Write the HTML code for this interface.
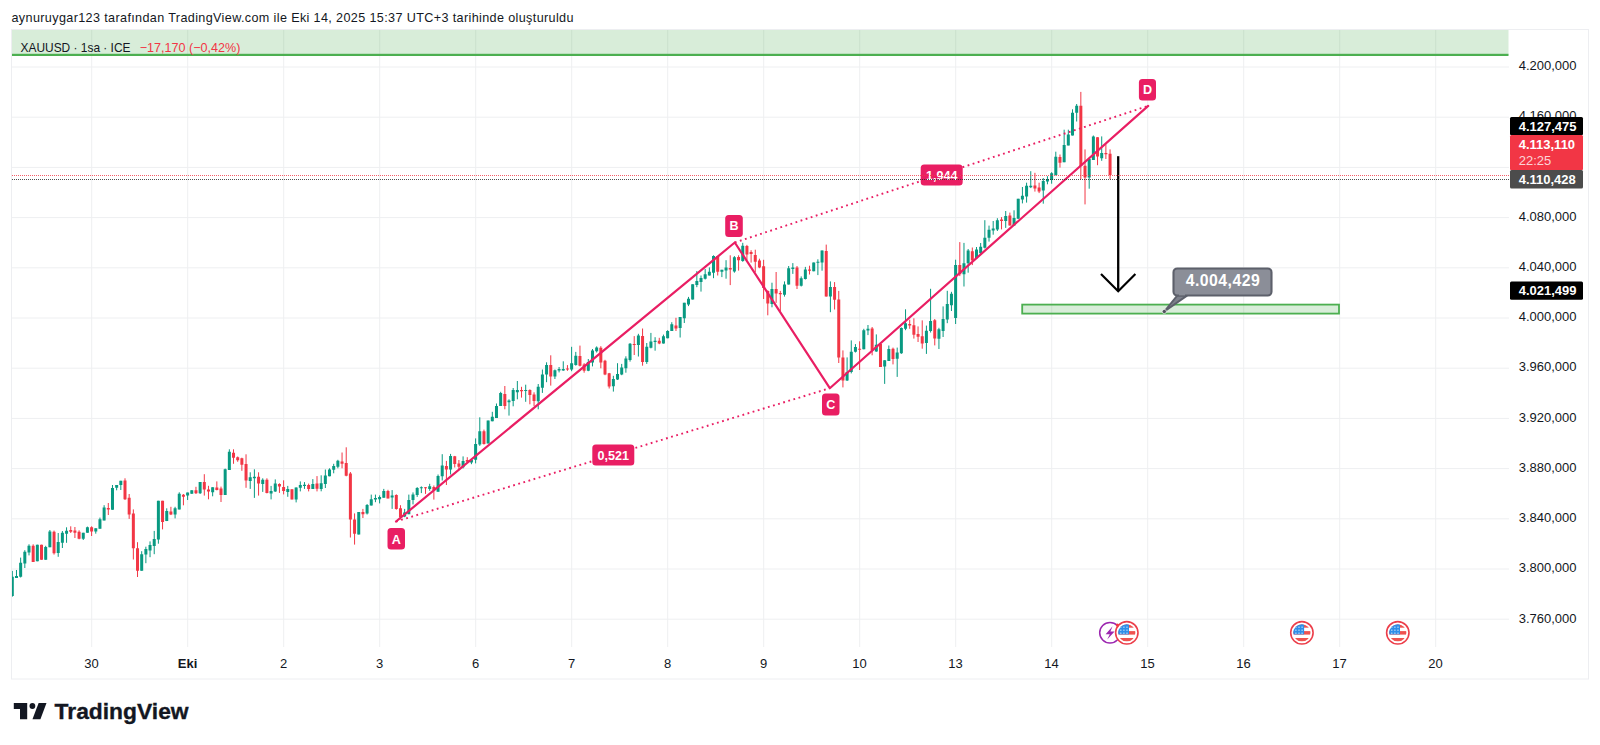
<!DOCTYPE html>
<html lang="tr"><head><meta charset="utf-8"><title>XAUUSD 1sa - TradingView</title>
<style>
html,body{margin:0;padding:0;background:#fff;}
body{width:1600px;height:745px;overflow:hidden;position:relative;font-family:'Liberation Sans', Arial, sans-serif;}
#hdr{position:absolute;left:11.5px;top:10px;font-size:12.6px;line-height:16px;color:#131722;white-space:nowrap;letter-spacing:0.37px;}
svg{position:absolute;left:0;top:0;}
svg text{font-family:'Liberation Sans', Arial, sans-serif;}
.ax{font-size:13px;fill:#131722;}
.tm{font-size:13px;fill:#131722;text-anchor:middle;}
.lb{font-size:12.6px;font-weight:bold;fill:#fff;text-anchor:middle;}
.pl{font-size:13px;font-weight:bold;fill:#fff;}
</style></head><body>
<div id="hdr">aynuruygar123 tarafından TradingView.com ile Eki 14, 2025 15:37 UTC+3 tarihinde oluşturuldu</div>
<svg width="1600" height="745" viewBox="0 0 1600 745">
<defs><clipPath id="plot"><rect x="11" y="30" width="1497.5" height="617"/></clipPath></defs>
<g stroke="#eeeff1" stroke-width="1">
<line x1="91.7" y1="30" x2="91.7" y2="647"/>
<line x1="187.7" y1="30" x2="187.7" y2="647"/>
<line x1="283.7" y1="30" x2="283.7" y2="647"/>
<line x1="379.7" y1="30" x2="379.7" y2="647"/>
<line x1="475.7" y1="30" x2="475.7" y2="647"/>
<line x1="571.7" y1="30" x2="571.7" y2="647"/>
<line x1="667.7" y1="30" x2="667.7" y2="647"/>
<line x1="763.7" y1="30" x2="763.7" y2="647"/>
<line x1="859.7" y1="30" x2="859.7" y2="647"/>
<line x1="955.7" y1="30" x2="955.7" y2="647"/>
<line x1="1051.7" y1="30" x2="1051.7" y2="647"/>
<line x1="1147.7" y1="30" x2="1147.7" y2="647"/>
<line x1="1243.7" y1="30" x2="1243.7" y2="647"/>
<line x1="1339.7" y1="30" x2="1339.7" y2="647"/>
<line x1="1435.7" y1="30" x2="1435.7" y2="647"/>
<line x1="11.5" y1="67" x2="1509" y2="67"/>
<line x1="11.5" y1="117.2" x2="1509" y2="117.2"/>
<line x1="11.5" y1="167.4" x2="1509" y2="167.4"/>
<line x1="11.5" y1="217.6" x2="1509" y2="217.6"/>
<line x1="11.5" y1="267.8" x2="1509" y2="267.8"/>
<line x1="11.5" y1="318" x2="1509" y2="318"/>
<line x1="11.5" y1="368.2" x2="1509" y2="368.2"/>
<line x1="11.5" y1="418.4" x2="1509" y2="418.4"/>
<line x1="11.5" y1="468.6" x2="1509" y2="468.6"/>
<line x1="11.5" y1="518.8" x2="1509" y2="518.8"/>
<line x1="11.5" y1="569" x2="1509" y2="569"/>
<line x1="11.5" y1="619.2" x2="1509" y2="619.2"/>
</g>
<rect x="12" y="30" width="1496.5" height="25" fill="#4caf50" fill-opacity="0.22"/>
<rect x="12" y="53.8" width="1496.5" height="2.2" fill="#4caf50"/>
<g clip-path="url(#plot)">
<path d="M12.3 570.9V596.7M16.47 570V578M20.65 557.6V577.5M24.82 550.2V568M29 544.3V555.4M37.34 544.7V561.3M45.69 545.8V559.8M49.87 530V547.2M58.21 533V556.8M62.39 531V548M66.56 527.3V542.8M83.26 532.8V540M87.43 526.6V532.8M95.78 528.3V533.7M99.95 517.6V528.7M104.13 505.2V520.4M112.48 485V509.8M116.65 485V490.3M120.82 480.8V490M141.69 551.2V570.8M145.87 546.7V563.2M150.04 541.4V557.2M154.22 530.9V554.2M158.39 500.8V543.7M166.74 508.3V521.1M175.09 506.8V518.4M179.26 492.3V509.4M187.61 492.6V500M191.78 490.3V493.8M200.13 482V494M212.65 487.3V496.3M225.17 468.6V494.9M229.35 449.3V470M250.22 472.3V488.9M254.39 469.3V497.9M262.74 478.3V491.9M271.09 485.9V499.4M275.26 479.4V491.9M287.78 485.9V496.8M296.13 487.4V502.4M300.31 481.4V491.4M304.48 482.1V488.9M312.83 479.1V488.9M321.18 475.3V491.3M325.35 469.5V488M329.52 468.3V476.3M333.7 463.8V473.3M337.87 459.8V468.3M358.74 512V534.5M367.09 504V514.5M371.26 494.6V505.5M375.44 494.6V502.2M379.61 495.4V503.4M383.79 488.9V497.7M392.13 490.1V508.9M404.66 508.9V517.2M408.83 494.6V514.2M413 492.4V504.4M417.18 487.1V496.9M421.35 486.4V493.1M429.7 483.8V490.8M438.05 474.5V491.7M442.22 454.2V480.5M450.57 453.9V474.5M463.09 456.4V468.4M471.44 458.9V464.2M475.61 438.4V463.4M479.79 417.3V445.9M488.14 420.6V443.4M492.31 411.8V421.3M496.48 403.5V417.9M500.66 391.8V406M509.01 399.3V415.6M513.18 388V406.3M517.35 381V399.3M525.7 384.7V401.8M538.22 384V409.3M542.4 369.5V392.9M546.57 362.3V382.2M554.92 369.5V379M559.09 367V372.4M563.27 361.3V370.8M571.62 346.8V371.2M575.79 351.9V365.7M588.31 359V371.2M592.49 349V366.4M596.66 346.4V352.5M613.36 375.8V391.6M617.53 363.2V380M621.7 363.9V375.2M625.88 356.3V372.7M630.05 343V361.6M638.4 333.8V356.5M646.75 343V363.9M650.92 332.9V348.4M655.1 337.2V350.7M663.44 334.6V343.6M667.62 330.2V338.3M671.79 322.2V331M680.14 317V337.5M684.31 302.8V323M688.49 296.9V306.1M692.66 284.3V299.6M696.84 271.1V287.2M701.01 275.5V291.6M705.18 269V279.5M709.36 267.4V275.5M713.53 255.3V278.2M721.88 269.8V277.1M726.05 260.2V278.7M734.4 256.1V272.7M742.75 242.8V261.8M771.97 282.7V307.3M784.49 281.4V296.6M788.66 266V284.6M792.84 263.1V273.9M801.19 276.4V286.5M805.36 266.9V279.5M813.71 262.5V271.3M817.88 259.3V275.1M822.06 250.5V270.7M830.4 281.4V312.2M847.1 357.4V381M851.27 340.4V373.4M855.45 344.1V352.5M863.8 328.8V349.3M867.97 325V335.1M876.32 334.4V351.8M884.67 360.2V383.9M888.84 345.5V360.9M897.19 347.6V376.9M901.36 327.4V353.9M905.54 309.3V330.2M926.41 325.6V353.9M930.58 288.8V332.5M938.93 327.8V349M943.1 306.4V337M947.28 290.8V323.2M951.45 291.8V311M955.62 259.7V324M963.97 242.9V286.5M968.15 249V272.7M976.49 247V259M980.67 243V254M984.84 220.2V248.5M989.02 225.6V241.6M993.19 221V234.7M997.36 218.2V231M1005.71 211V227.9M1014.06 210.3V225.6M1018.23 198.8V218.7M1022.41 187V203.4M1026.58 182.7V202.6M1030.76 171.2V188.1M1043.28 178.1V203.7M1047.45 176.2V184.3M1051.63 172.2V183.7M1055.8 151.7V175.5M1064.15 129.7V162.2M1068.32 129.7V145.4M1072.5 109.3V135.5M1076.67 104V121.5M1089.19 159V188.7M1093.37 135.5V159.9M1101.71 136.4V160.8" stroke="#089981" stroke-width="1" fill="none"/>
<path d="M33.17 544.3V562M41.52 544.7V559.8M54.04 530.6V554.6M70.74 526.3V533M74.91 527V538M79.08 530.3V539.3M91.61 526.3V536M108.3 503V515M125 478.3V500M129.17 494V518.9M133.35 509.4V559.5M137.52 542.2V577M162.56 500.8V529.4M170.91 506.8V515.1M183.43 494V505.3M195.96 486.8V494M204.3 474.2V495.6M208.48 485.8V499.3M216.83 481.4V490.4M221 486.6V502M233.52 449.3V463.8M237.7 456.5V461.8M241.87 457.7V470.8M246.04 454.3V487.8M258.57 472.3V495.6M266.91 478.3V493.4M279.44 483.3V492.9M283.61 480.3V494.4M291.96 489.3V499.4M308.65 483.6V491.4M317 476.1V491.4M342.05 452.5V468.3M346.22 447.3V476.3M350.39 472V537.5M354.57 513.4V544.6M362.92 508.9V518M387.96 489.8V498.4M396.31 494.3V509.7M400.48 505.2V519.5M425.53 487.1V493.9M433.87 485.5V499.6M446.4 460.9V485M454.74 455.9V467.5M458.92 460V469.5M467.27 457.2V462.5M483.96 429.6V444.6M504.83 386V409.3M521.53 386.8V397.6M529.88 389.3V404.3M534.05 392.3V406M550.75 355.3V385.6M567.44 365.1V370.8M579.96 345.6V366.4M584.14 363.2V372.7M600.83 346.2V368.3M605.01 359.8V375.2M609.18 372.9V388.5M634.23 336.1V355M642.57 328.5V365.7M659.27 337.8V344.2M675.97 317.8V331M717.71 256.1V275.5M730.23 255.3V285.1M738.58 255.3V270.6M746.92 244.9V260.2M751.1 250.2V262.6M755.27 249.7V272.2M759.45 258.7V268.2M763.62 259.8V299M767.79 290.3V315.3M776.14 272V302.9M780.32 290.9V311.1M797.01 266V289M809.53 265.7V274.5M826.23 244.6V296.6M834.58 282.1V309.5M838.75 290.9V363M842.93 350.4V387.4M859.62 341.3V370M872.14 327V355.3M880.49 343.4V366.9M893.01 347.6V364.4M909.71 319.7V328.8M913.88 318.3V338.6M918.06 326.4V342M922.23 320.4V348.7M934.75 319V345.4M959.8 242.1V276.1M972.32 247.5V265.1M1001.54 217.1V229.4M1009.89 212.6V225.6M1034.93 172.8V191.6M1039.1 182.7V193.1M1059.97 154.5V167.6M1080.84 91.9V179.1M1085.02 149.4V204.4M1097.54 137.2V165.2M1105.89 144.2V159M1110.06 149.4V179.1" stroke="#f23645" stroke-width="1" fill="none"/>
<path d="M10.8 576.8h3v19.2h-3zM14.97 576h3v2h-3zM19.15 562.7h3v14.1h-3zM23.32 551.7h3v11.8h-3zM27.5 545.8h3v6.6h-3zM35.84 544.7h3v16.6h-3zM44.19 547h3v12.8h-3zM48.37 531.4h3v15.8h-3zM56.71 542h3v11h-3zM60.89 532.8h3v10h-3zM65.06 530.7h3v3h-3zM81.76 532.8h3v5.9h-3zM85.93 527.3h3v5.5h-3zM94.28 528.3h3v3.2h-3zM98.45 519.3h3v9.4h-3zM102.63 507.5h3v12.9h-3zM110.98 488h3v21.8h-3zM115.15 485h3v2.7h-3zM119.32 480.8h3v4.2h-3zM140.19 554.2h3v16.6h-3zM144.37 549h3v5.5h-3zM148.54 544.9h3v5.6h-3zM152.72 538.9h3v7.1h-3zM156.89 500.8h3v38.7h-3zM165.24 510.9h3v10.2h-3zM173.59 508.3h3v6.1h-3zM177.76 493.8h3v15.6h-3zM186.11 492.6h3v3h-3zM190.28 490.3h3v3.5h-3zM198.63 482h3v11.3h-3zM211.15 487.3h3v4.9h-3zM223.67 469.3h3v25.6h-3zM227.85 451.7h3v18.3h-3zM248.72 477.3h3v3.6h-3zM252.89 476.8h3v1.5h-3zM261.24 479.8h3v4.1h-3zM269.59 491.1h3v2.3h-3zM273.76 483.6h3v7.8h-3zM286.28 488.9h3v3h-3zM294.63 487.4h3v12h-3zM298.81 485.1h3v2.7h-3zM302.98 484.8h3v1.1h-3zM311.33 483.9h3v5h-3zM319.68 483.3h3v5.7h-3zM323.85 475.5h3v8.6h-3zM328.02 469.4h3v6.9h-3zM332.2 466.1h3v3.7h-3zM336.37 460.8h3v6h-3zM357.24 512h3v22.5h-3zM365.59 504.9h3v8.5h-3zM369.76 499.2h3v6.3h-3zM373.94 498h3v1.5h-3zM378.11 496.9h3v2.3h-3zM382.29 490.9h3v6.8h-3zM390.63 495.4h3v2h-3zM403.16 512.4h3v4.1h-3zM407.33 499.9h3v14.3h-3zM411.5 494.6h3v5.3h-3zM415.68 487.9h3v7h-3zM419.85 487.35h3v1h-3zM428.2 486.2h3v2.7h-3zM436.55 475.9h3v15.8h-3zM440.72 465.4h3v10.8h-3zM449.07 455.9h3v13.6h-3zM461.59 460.9h3v6.3h-3zM469.94 460h3v2.5h-3zM474.11 443.9h3v15.8h-3zM478.29 431.3h3v13.3h-3zM486.64 420.6h3v22.8h-3zM490.81 416.8h3v4.5h-3zM494.98 406h3v11.9h-3zM499.16 393.1h3v12.9h-3zM507.51 400.6h3v1.7h-3zM511.68 390.1h3v10.9h-3zM515.85 390.1h3v2.2h-3zM524.2 390.05h3v1h-3zM536.72 386.7h3v14.6h-3zM540.9 374.6h3v13.2h-3zM545.07 365.1h3v9.5h-3zM553.42 370.2h3v6.3h-3zM557.59 368.9h3v1.5h-3zM561.77 368.9h3v1.5h-3zM570.12 363.2h3v6.3h-3zM574.29 355.7h3v9.2h-3zM586.81 362h3v8.8h-3zM590.99 350.6h3v12h-3zM595.16 347.5h3v3.7h-3zM611.86 379h3v7.3h-3zM616.03 373.9h3v5.7h-3zM620.2 367.4h3v7.2h-3zM624.38 358.6h3v9.7h-3zM628.55 343.7h3v16.4h-3zM636.9 335.5h3v9.4h-3zM645.25 346.8h3v15.2h-3zM649.42 341.6h3v6.2h-3zM653.6 340.7h3v1.3h-3zM661.94 336.2h3v7.4h-3zM666.12 331h3v7.3h-3zM670.29 324.3h3v6.7h-3zM678.64 317h3v11.1h-3zM682.81 302.8h3v15.4h-3zM686.99 298.8h3v5.7h-3zM691.16 284.3h3v15.3h-3zM695.34 281.1h3v4h-3zM699.51 277.9h3v4h-3zM703.68 274.3h3v4.4h-3zM707.86 271.8h3v3.7h-3zM712.03 256.1h3v16.6h-3zM720.38 269.8h3v2h-3zM724.55 267.4h3v3.2h-3zM732.9 257.3h3v14.1h-3zM741.25 245.7h3v15.3h-3zM770.47 289h3v15.1h-3zM782.99 284.6h3v10.1h-3zM787.16 268.2h3v16.4h-3zM791.34 267.5h3v1.6h-3zM799.69 278.3h3v7.5h-3zM803.86 269.4h3v9.5h-3zM812.21 262.5h3v8.8h-3zM816.38 261.85h3v1h-3zM820.56 250.5h3v12h-3zM828.9 287.1h3v9.5h-3zM845.6 372h3v8.4h-3zM849.77 351.8h3v20.2h-3zM853.95 346.9h3v4.9h-3zM862.3 330.2h3v19.1h-3zM866.47 328.8h3v1.7h-3zM874.82 344.8h3v6.7h-3zM883.17 360.2h3v6.3h-3zM887.34 349h3v11.9h-3zM895.69 352.5h3v6.3h-3zM899.86 328.1h3v25.1h-3zM904.04 323.2h3v5.6h-3zM924.91 330.7h3v12.2h-3zM929.08 321h3v9.9h-3zM937.43 329.2h3v9.5h-3zM941.6 318.9h3v12h-3zM945.78 304.1h3v15.3h-3zM949.95 293.8h3v11.4h-3zM954.12 265.1h3v52.8h-3zM962.47 263.2h3v11h-3zM966.65 250.5h3v12.7h-3zM974.99 249.5h3v8.8h-3zM979.17 246.8h3v6.5h-3zM983.34 237.8h3v10h-3zM987.52 229.8h3v8h-3zM991.69 228.6h3v1.9h-3zM995.86 220.2h3v9.2h-3zM1004.21 216.1h3v4.9h-3zM1012.56 217.9h3v7.7h-3zM1016.73 198.8h3v19.9h-3zM1020.91 195.7h3v3.9h-3zM1025.08 185.8h3v10.7h-3zM1029.26 185.8h3v1.5h-3zM1041.78 180.9h3v9.7h-3zM1045.95 178.9h3v2.6h-3zM1050.13 173.3h3v6.7h-3zM1054.3 156.7h3v18.3h-3zM1062.65 145.1h3v17.1h-3zM1066.82 134.6h3v10.8h-3zM1071 112.8h3v22.7h-3zM1075.17 105.8h3v7h-3zM1087.69 159h3v18.4h-3zM1091.87 136.4h3v23.5h-3zM1100.21 152.9h3v5.3h-3z" fill="#089981"/>
<path d="M31.67 545.8h3v16.2h-3zM40.02 544.7h3v15.1h-3zM52.54 531.7h3v21.5h-3zM69.24 530h3v1.7h-3zM73.41 530.5h3v2.3h-3zM77.58 531.7h3v7h-3zM90.11 527.3h3v4.1h-3zM106.8 508h3v1.4h-3zM123.5 480.5h3v18.8h-3zM127.67 497.8h3v16.6h-3zM131.85 513.6h3v34.6h-3zM136.02 548.2h3v22.6h-3zM161.06 500.8h3v21.1h-3zM169.41 511.4h3v3h-3zM181.93 494.8h3v2h-3zM194.46 490.3h3v3h-3zM202.8 482h3v7.5h-3zM206.98 489.5h3v2h-3zM215.33 487.4h3v2.6h-3zM219.5 488.4h3v6.5h-3zM232.02 452.8h3v4.9h-3zM236.2 457.3h3v3h-3zM240.37 458.3h3v6.5h-3zM244.54 464h3v16.6h-3zM257.07 476.8h3v6.8h-3zM265.41 479.8h3v13.1h-3zM277.94 483.9h3v2.7h-3zM282.11 486.9h3v4.2h-3zM290.46 489.3h3v10.1h-3zM307.15 485.1h3v3.8h-3zM315.5 483.5h3v5.3h-3zM340.55 461.6h3v2.2h-3zM344.72 463h3v12.8h-3zM348.89 473.6h3v45.9h-3zM353.07 519.5h3v14.2h-3zM361.42 512h3v2.2h-3zM386.46 490.9h3v7.5h-3zM394.81 494.9h3v14h-3zM398.98 508.2h3v9h-3zM424.03 487.35h3v1h-3zM432.37 486.9h3v3.4h-3zM444.9 465.9h3v3.6h-3zM453.24 456.2h3v7.7h-3zM457.42 463.4h3v3.3h-3zM465.77 460h3v1.7h-3zM482.46 431.3h3v12.6h-3zM503.33 394h3v12h-3zM520.03 390.1h3v1.2h-3zM528.38 390.1h3v5h-3zM532.55 394.6h3v6.4h-3zM549.25 365.1h3v11.4h-3zM565.94 368.55h3v1h-3zM578.46 356h3v9.7h-3zM582.64 364.5h3v6.3h-3zM599.33 347.7h3v14.9h-3zM603.51 360.7h3v13.9h-3zM607.68 373.3h3v13.3h-3zM632.73 343.9h3v1h-3zM641.07 336.1h3v25.9h-3zM657.77 340.7h3v2.9h-3zM674.47 325.4h3v3.2h-3zM716.21 256.1h3v15.7h-3zM728.73 267.9h3v1.6h-3zM737.08 256.9h3v3.3h-3zM745.42 246h3v8.5h-3zM749.6 252.1h3v1.9h-3zM753.77 255h3v6.8h-3zM757.95 260.4h3v7.1h-3zM762.12 266.3h3v21.7h-3zM766.29 290.9h3v12.7h-3zM774.64 289h3v4.4h-3zM778.82 293h3v1.3h-3zM795.51 267.5h3v18.3h-3zM808.03 269.4h3v1.3h-3zM824.73 251.1h3v45.5h-3zM833.08 287.1h3v12.6h-3zM837.25 299.6h3v57.8h-3zM841.43 357.4h3v23h-3zM858.12 348.7h3v1h-3zM870.64 328.4h3v22h-3zM878.99 344.1h3v22.8h-3zM891.51 348.7h3v10.4h-3zM908.21 323.9h3v1.7h-3zM912.38 325.3h3v9.5h-3zM916.56 334h3v2.7h-3zM920.73 336.2h3v7.2h-3zM933.25 320.3h3v18.2h-3zM958.3 265.1h3v9.1h-3zM970.82 251.3h3v9.2h-3zM1000.04 219.4h3v1.6h-3zM1008.39 215.6h3v10h-3zM1033.43 185.5h3v3h-3zM1037.6 187.6h3v4h-3zM1058.47 157h3v5.8h-3zM1079.34 105.8h3v60.2h-3zM1083.52 165.7h3v11.7h-3zM1096.04 137.2h3v19.2h-3zM1104.39 152.9h3v1.3h-3zM1108.56 153.8h3v21.3h-3z" fill="#f23645"/>
</g>
<g fill="none" stroke="#e91e63" stroke-linejoin="round" stroke-linecap="round">
<path d="M396 521.5L734.8 242.5L829.8 388.2L1148.2 105.9" stroke-width="2.2"/>
<path d="M396 521.5L829.8 388.2M734.8 242.5L1148.2 105.9" stroke-width="1.9" stroke-dasharray="1.8 3.53" stroke-linecap="butt"/>
</g>
<rect x="387.5" y="528" width="17.5" height="21.5" rx="3.5" fill="#e91e63"/>
<text class="lb" x="396.25" y="543.5">A</text>
<rect x="725.2" y="215" width="17.6" height="22" rx="3.5" fill="#e91e63"/>
<text class="lb" x="734" y="230.4">B</text>
<rect x="822" y="393.4" width="17.5" height="22.1" rx="3.5" fill="#e91e63"/>
<text class="lb" x="830.75" y="409">C</text>
<rect x="1138.9" y="79" width="17.1" height="21.6" rx="3.5" fill="#e91e63"/>
<text class="lb" x="1147.45" y="94.3">D</text>
<rect x="592.3" y="444.5" width="42" height="21" rx="3.5" fill="#e91e63"/>
<text class="lb" x="613.3" y="459.6">0,521</text>
<rect x="920.7" y="164.5" width="42" height="21" rx="3.5" fill="#e91e63"/>
<text class="lb" x="941.7" y="179.6">1,944</text>
<g fill="none" stroke="#000" stroke-width="2.3">
<path d="M1118.2 156.2V290.5"/>
<path d="M1101 274L1118.2 291.2L1135.4 274" stroke-width="2.2"/>
</g>
<rect x="1022.2" y="304.6" width="316.8" height="9" fill="#4caf50" fill-opacity="0.22" stroke="#4caf50" stroke-width="1.8"/>
<path d="M1177.2 295.6L1164.3 311.5L1187 295.6z" fill="#7d808b" stroke="#5d606b" stroke-width="1.9" stroke-linejoin="round"/>
<rect x="1173.5" y="268.5" width="98" height="27" rx="3.8" fill="#8b8e98" stroke="#5d606b" stroke-width="2.1"/>
<path d="M1179 294.6L1185 294.6" stroke="#8b8e98" stroke-width="1.6"/>
<circle cx="1164.3" cy="311.5" r="2.1" fill="#4f525c" stroke="#fff" stroke-width="0.6"/>
<text x="1222.7" y="286" text-anchor="middle" font-size="15.8" font-weight="bold" fill="#fff" textLength="74" lengthAdjust="spacing">4.004,429</text>
<line x1="12" y1="175.6" x2="1509" y2="175.6" stroke="#f23645" stroke-width="1" stroke-dasharray="1 1" stroke-opacity="0.8" shape-rendering="crispEdges"/>
<line x1="12" y1="179.4" x2="1509" y2="179.4" stroke="#222" stroke-width="1" stroke-dasharray="1 1" stroke-opacity="0.8" shape-rendering="crispEdges"/>
<text x="20.5" y="51.6" font-size="12.6" fill="#131722" textLength="110" lengthAdjust="spacingAndGlyphs">XAUUSD · 1sa · ICE</text>
<text x="139.7" y="51.6" font-size="12.6" fill="#f23645" textLength="100.7" lengthAdjust="spacingAndGlyphs">−17,170 (−0,42%)</text>
<text class="ax" x="1518.7" y="70.1">4.200,000</text>
<text class="ax" x="1518.7" y="120.33">4.160,000</text>
<text class="ax" x="1518.7" y="170.56">4.120,000</text>
<text class="ax" x="1518.7" y="220.79">4.080,000</text>
<text class="ax" x="1518.7" y="271.02">4.040,000</text>
<text class="ax" x="1518.7" y="321.25">4.000,000</text>
<text class="ax" x="1518.7" y="371.48">3.960,000</text>
<text class="ax" x="1518.7" y="421.71">3.920,000</text>
<text class="ax" x="1518.7" y="471.94">3.880,000</text>
<text class="ax" x="1518.7" y="522.17">3.840,000</text>
<text class="ax" x="1518.7" y="572.4">3.800,000</text>
<text class="ax" x="1518.7" y="622.63">3.760,000</text>
<rect x="1510" y="117" width="73" height="18.2" rx="1.5" fill="#000"/>
<rect x="1510" y="135" width="73" height="35.3" rx="1.5" fill="#f23645"/>
<rect x="1510" y="170" width="73" height="18.5" rx="1.5" fill="#4c4c4c"/>
<rect x="1510" y="281.5" width="73" height="18.3" rx="1.5" fill="#000"/>
<text class="pl" x="1518.7" y="130.8">4.127,475</text>
<text class="pl" x="1518.7" y="149.2">4.113,110</text>
<text x="1518.7" y="164.6" font-size="13" fill="#fff" fill-opacity="0.8">22:25</text>
<text class="pl" x="1518.7" y="184">4.110,428</text>
<text class="pl" x="1518.7" y="295.3">4.021,499</text>
<text class="tm" x="91.5" y="667.7">30</text>
<text class="tm" x="187.5" y="667.7" font-weight="bold">Eki</text>
<text class="tm" x="283.5" y="667.7">2</text>
<text class="tm" x="379.5" y="667.7">3</text>
<text class="tm" x="475.5" y="667.7">6</text>
<text class="tm" x="571.5" y="667.7">7</text>
<text class="tm" x="667.5" y="667.7">8</text>
<text class="tm" x="763.5" y="667.7">9</text>
<text class="tm" x="859.5" y="667.7">10</text>
<text class="tm" x="955.5" y="667.7">13</text>
<text class="tm" x="1051.5" y="667.7">14</text>
<text class="tm" x="1147.5" y="667.7">15</text>
<text class="tm" x="1243.5" y="667.7">16</text>
<text class="tm" x="1339.5" y="667.7">17</text>
<text class="tm" x="1435.5" y="667.7">20</text>
<circle cx="1110" cy="632.8" r="10.3" fill="#fff" stroke="#9c27b0" stroke-width="1.5"/>
<path d="M1112.6 626.2L1105.6 634.2L1109.8 634.2L1107.2 639.6L1114.6 631.4L1110.4 631.4z" fill="#9c27b0"/>
<g>
<circle cx="1126.8" cy="632.8" r="11.2" fill="#fff" stroke="#ec3e4a" stroke-width="1.6"/>
<clipPath id="f1"><circle cx="1126.8" cy="632.8" r="8.6"/></clipPath>
<g clip-path="url(#f1)">
<rect x="1117.8" y="623.8" width="18" height="18" fill="#fff"/>
<rect x="1117.8" y="624.2" width="18" height="3.5" fill="#ef5350"/>
<rect x="1117.8" y="631.1" width="18" height="3.5" fill="#ef5350"/>
<rect x="1117.8" y="638" width="18" height="3.5" fill="#ef5350"/>
<rect x="1117.8" y="623.8" width="11.2" height="10.6" fill="#2f8ee8"/>
<rect x="1120.2" y="626.6" width="1.2" height="1.2" fill="#cfe6fb"/>
<rect x="1123.3" y="626.6" width="1.2" height="1.2" fill="#cfe6fb"/>
<rect x="1126.4" y="626.6" width="1.2" height="1.2" fill="#cfe6fb"/>
<rect x="1120.2" y="629.6" width="1.2" height="1.2" fill="#cfe6fb"/>
<rect x="1123.3" y="629.6" width="1.2" height="1.2" fill="#cfe6fb"/>
<rect x="1126.4" y="629.6" width="1.2" height="1.2" fill="#cfe6fb"/>
<rect x="1120.2" y="632.6" width="1.2" height="1.2" fill="#cfe6fb"/>
<rect x="1123.3" y="632.6" width="1.2" height="1.2" fill="#cfe6fb"/>
<rect x="1126.4" y="632.6" width="1.2" height="1.2" fill="#cfe6fb"/>
</g></g>
<circle cx="1117.3" cy="625" r="1.5" fill="#f23645"/>
<g>
<circle cx="1301.9" cy="632.8" r="11.2" fill="#fff" stroke="#ec3e4a" stroke-width="1.6"/>
<clipPath id="f2"><circle cx="1301.9" cy="632.8" r="8.6"/></clipPath>
<g clip-path="url(#f2)">
<rect x="1292.9" y="623.8" width="18" height="18" fill="#fff"/>
<rect x="1292.9" y="624.2" width="18" height="3.5" fill="#ef5350"/>
<rect x="1292.9" y="631.1" width="18" height="3.5" fill="#ef5350"/>
<rect x="1292.9" y="638" width="18" height="3.5" fill="#ef5350"/>
<rect x="1292.9" y="623.8" width="11.2" height="10.6" fill="#2f8ee8"/>
<rect x="1295.3" y="626.6" width="1.2" height="1.2" fill="#cfe6fb"/>
<rect x="1298.4" y="626.6" width="1.2" height="1.2" fill="#cfe6fb"/>
<rect x="1301.5" y="626.6" width="1.2" height="1.2" fill="#cfe6fb"/>
<rect x="1295.3" y="629.6" width="1.2" height="1.2" fill="#cfe6fb"/>
<rect x="1298.4" y="629.6" width="1.2" height="1.2" fill="#cfe6fb"/>
<rect x="1301.5" y="629.6" width="1.2" height="1.2" fill="#cfe6fb"/>
<rect x="1295.3" y="632.6" width="1.2" height="1.2" fill="#cfe6fb"/>
<rect x="1298.4" y="632.6" width="1.2" height="1.2" fill="#cfe6fb"/>
<rect x="1301.5" y="632.6" width="1.2" height="1.2" fill="#cfe6fb"/>
</g></g>
<g>
<circle cx="1397.8" cy="632.8" r="11.2" fill="#fff" stroke="#ec3e4a" stroke-width="1.6"/>
<clipPath id="f3"><circle cx="1397.8" cy="632.8" r="8.6"/></clipPath>
<g clip-path="url(#f3)">
<rect x="1388.8" y="623.8" width="18" height="18" fill="#fff"/>
<rect x="1388.8" y="624.2" width="18" height="3.5" fill="#ef5350"/>
<rect x="1388.8" y="631.1" width="18" height="3.5" fill="#ef5350"/>
<rect x="1388.8" y="638" width="18" height="3.5" fill="#ef5350"/>
<rect x="1388.8" y="623.8" width="11.2" height="10.6" fill="#2f8ee8"/>
<rect x="1391.2" y="626.6" width="1.2" height="1.2" fill="#cfe6fb"/>
<rect x="1394.3" y="626.6" width="1.2" height="1.2" fill="#cfe6fb"/>
<rect x="1397.4" y="626.6" width="1.2" height="1.2" fill="#cfe6fb"/>
<rect x="1391.2" y="629.6" width="1.2" height="1.2" fill="#cfe6fb"/>
<rect x="1394.3" y="629.6" width="1.2" height="1.2" fill="#cfe6fb"/>
<rect x="1397.4" y="629.6" width="1.2" height="1.2" fill="#cfe6fb"/>
<rect x="1391.2" y="632.6" width="1.2" height="1.2" fill="#cfe6fb"/>
<rect x="1394.3" y="632.6" width="1.2" height="1.2" fill="#cfe6fb"/>
<rect x="1397.4" y="632.6" width="1.2" height="1.2" fill="#cfe6fb"/>
</g></g>
<rect x="11.5" y="29.5" width="1577" height="649.5" fill="none" stroke="#edeef1" stroke-width="1"/>
<g fill="#131722">
<path d="M13.8 703H27.2V719.3H20V709.1H13.8z"/>
<circle cx="32.4" cy="706" r="2.9"/>
<path d="M38.6 703H46.5L40.4 719.3H32.5z"/>
</g>
<text x="54.6" y="719.3" font-size="22.4" font-weight="bold" fill="#131722" stroke="#131722" stroke-width="0.35" textLength="134" lengthAdjust="spacingAndGlyphs">TradingView</text>
</svg>
</body></html>
